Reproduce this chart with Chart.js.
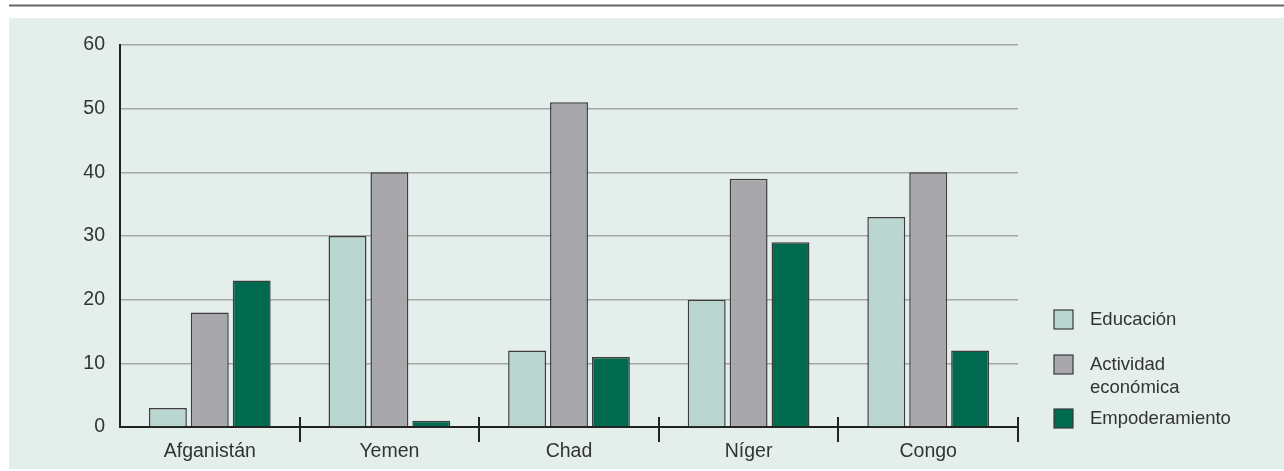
<!DOCTYPE html>
<html>
<head>
<meta charset="utf-8">
<script src="https://cdn.jsdelivr.net/npm/chart.js@4/dist/chart.umd.min.js"></script>
<style>
    html, body { margin: 0; padding: 0; background: #ffffff; }
    #wrap { width: 1284px; height: 471px; position: relative; }
</style>
</head>
<body>
<div id="wrap"><canvas id="myChart" width="1284" height="471"></canvas></div>
<script>
// Data
const paises = ['Afganistán', 'Yemen', 'Chad', 'Níger', 'Congo'];
const educacion = [3, 30, 12, 20, 33];
const actividadEconomica = [18, 40, 51, 39, 40];
const empoderamiento = [23, 1, 11, 29, 12];
const etiquetasLeyenda = [['Educación'], ['Actividad', 'económica'], ['Empoderamiento']];
const ticksY = [0, 10, 20, 30, 40, 50, 60];

const FONT = "'Liberation Sans', Arial, sans-serif";

// Background panel and top rule
const fondoPlugin = {
    id: 'fondo',
    beforeDraw(chart) {
        const ctx = chart.ctx;
        ctx.save();
        ctx.fillStyle = '#ffffff';
        ctx.fillRect(0, 0, chart.width, chart.height);
        ctx.fillStyle = '#e4eeea';
        ctx.fillRect(9, 18, chart.width - 9, 451);
        ctx.fillStyle = '#666666';
        ctx.fillRect(9, 4.5, chart.width - 9, 2);
        ctx.restore();
    }
};

// Category separator ticks crossing the x axis
const separadoresPlugin = {
    id: 'separadores',
    afterDraw(chart) {
        const x = chart.scales.x;
        const ctx = chart.ctx;
        ctx.save();
        ctx.strokeStyle = '#222222';
        ctx.lineWidth = 2;
        for (let i = 1; i <= paises.length; i++) {
            const px = Math.round(x.getPixelForValue(i - 0.5));
            ctx.beginPath();
            ctx.moveTo(px, x.top - 10);
            ctx.lineTo(px, x.top + 15);
            ctx.stroke();
        }
        ctx.restore();
    }
};

// Legend on the right, with multi-line labels
const leyendaPlugin = {
    id: 'leyenda',
    afterDraw(chart) {
        const ctx = chart.ctx;
        const filas = [310, 355, 409];
        ctx.save();
        ctx.font = '18.5px ' + FONT;
        ctx.textBaseline = 'middle';
        chart.data.datasets.forEach((ds, i) => {
            const y = filas[i];
            ctx.fillStyle = ds.backgroundColor;
            ctx.fillRect(1054, y, 19, 19);
            ctx.strokeStyle = '#3a3a3a';
            ctx.lineWidth = 1.2;
            ctx.strokeRect(1054, y, 19, 19);
            ctx.fillStyle = '#333333';
            etiquetasLeyenda[i].forEach((linea, j) => {
                ctx.fillText(linea, 1090, y + 10 + j * 23);
            });
        });
        ctx.restore();
    }
};

const ctx = document.getElementById('myChart').getContext('2d');
new Chart(ctx, {
    type: 'bar',
    data: {
        labels: paises,
        datasets: [{
            label: 'Educación',
            data: educacion,
            backgroundColor: '#bad6d1',
            borderColor: '#3d3d3d',
            borderWidth: 1.5
        }, {
            label: 'Actividad económica',
            data: actividadEconomica,
            backgroundColor: '#a8a8ac',
            borderColor: '#3d3d3d',
            borderWidth: 1.5
        }, {
            label: 'Empoderamiento',
            data: empoderamiento,
            backgroundColor: '#006a4f',
            borderColor: '#3d3d3d',
            borderWidth: 1.5
        }]
    },
    options: {
        responsive: false,
        animation: false,
        categoryPercentage: 0.70,
        barPercentage: 0.905,
        layout: { padding: { left: 0, right: 266, top: 45, bottom: 0 } },
        plugins: {
            legend: { display: false },
            tooltip: { enabled: false }
        },
        scales: {
            x: {
                grid: { display: false, drawTicks: false },
                border: { display: true, color: '#222222', width: 2 },
                ticks: {
                    color: '#333333',
                    font: { family: FONT, size: 19.5 },
                    padding: 13
                },
                afterFit(scale) { scale.height = 44; }
            },
            y: {
                min: 0,
                max: 60,
                afterBuildTicks(scale) { scale.ticks = ticksY.map(v => ({ value: v })); },
                grid: { color: '#a3a7a6', lineWidth: 1.5, drawTicks: false },
                border: { display: true, color: '#222222', width: 2 },
                ticks: {
                    color: '#333333',
                    font: { family: FONT, size: 19.5 },
                    padding: 15
                },
                afterFit(scale) { scale.width = 120; }
            }
        }
    },
    plugins: [fondoPlugin, separadoresPlugin, leyendaPlugin]
});
</script>
</body>
</html>
